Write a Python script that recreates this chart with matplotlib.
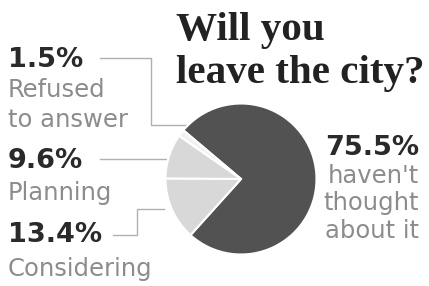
import matplotlib
matplotlib.use("Agg")
import matplotlib.pyplot as plt

labels = ["haven't thought about it", "Refused to answer", "Planning", "Considering"]
values = [75.5, 1.5, 9.6, 13.4]
pct_text = ["75.5%", "1.5%", "9.6%", "13.4%"]
colors = ["#525252", "#f2f2f2", "#d8d8d8", "#d8d8d8"]

W, H = 429, 286
fig = plt.figure(figsize=(W / 100, H / 100), dpi=100)
fig.patch.set_facecolor("white")

# pie axes
cx, cy, r = 241, 179, 77
pax = fig.add_axes([(cx - r) / W, (H - cy - r) / H, 2 * r / W, 2 * r / H])
pax.pie(values, colors=colors, startangle=-132, counterclock=True,
        wedgeprops=dict(edgecolor="white", linewidth=1.5))
pax.set_aspect("equal")
pax.set_xlim(-1.02, 1.02)
pax.set_ylim(-1.02, 1.02)
pax.axis("off")

# overlay axes in pixel coordinates
ax = fig.add_axes([0, 0, 1, 1], zorder=-1)
ax.set_xlim(0, W)
ax.set_ylim(H, 0)
ax.axis("off")
ax.patch.set_alpha(0)

title_kw = dict(family="Liberation Serif", fontweight="bold", fontsize=29.6,
                color="#222222", va="baseline", ha="left")
ax.text(176, 40, "Will you", **title_kw)
ax.text(176, 83, "leave the city?", **title_kw)

num_kw = dict(family="DejaVu Sans", fontweight="bold", fontsize=19.5,
              color="#2a2a2a", va="baseline")
desc_kw = dict(family="DejaVu Sans", fontsize=17.5, color="#8c8c8c",
               va="baseline")

# left labels
ax.text(8, 67, pct_text[1], ha="left", **num_kw)
ax.text(8, 97, "Refused", ha="left", **desc_kw)
ax.text(8, 127, "to answer", ha="left", **desc_kw)
ax.text(8, 168, pct_text[2], ha="left", **num_kw)
ax.text(8, 200, labels[2], ha="left", **desc_kw)
ax.text(8, 242, pct_text[3], ha="left", **num_kw)
ax.text(8, 276, labels[3], ha="left", **desc_kw)

# right labels
ax.text(419, 155, pct_text[0], ha="right", **num_kw)
ax.text(419, 183, "haven't", ha="right", **desc_kw)
ax.text(419, 210, "thought", ha="right", **desc_kw)
ax.text(419, 238, "about it", ha="right", **desc_kw)

# leader lines
lc = dict(color="#b0b0b0", linewidth=1.0)
ax.plot([100, 151, 151, 186], [58, 58, 125, 125], **lc)
ax.plot([100, 166], [159, 159], **lc)
ax.plot([113, 137, 137, 164], [235, 235, 209, 209], **lc)

fig.savefig("out.png", dpi=100, facecolor="white")
